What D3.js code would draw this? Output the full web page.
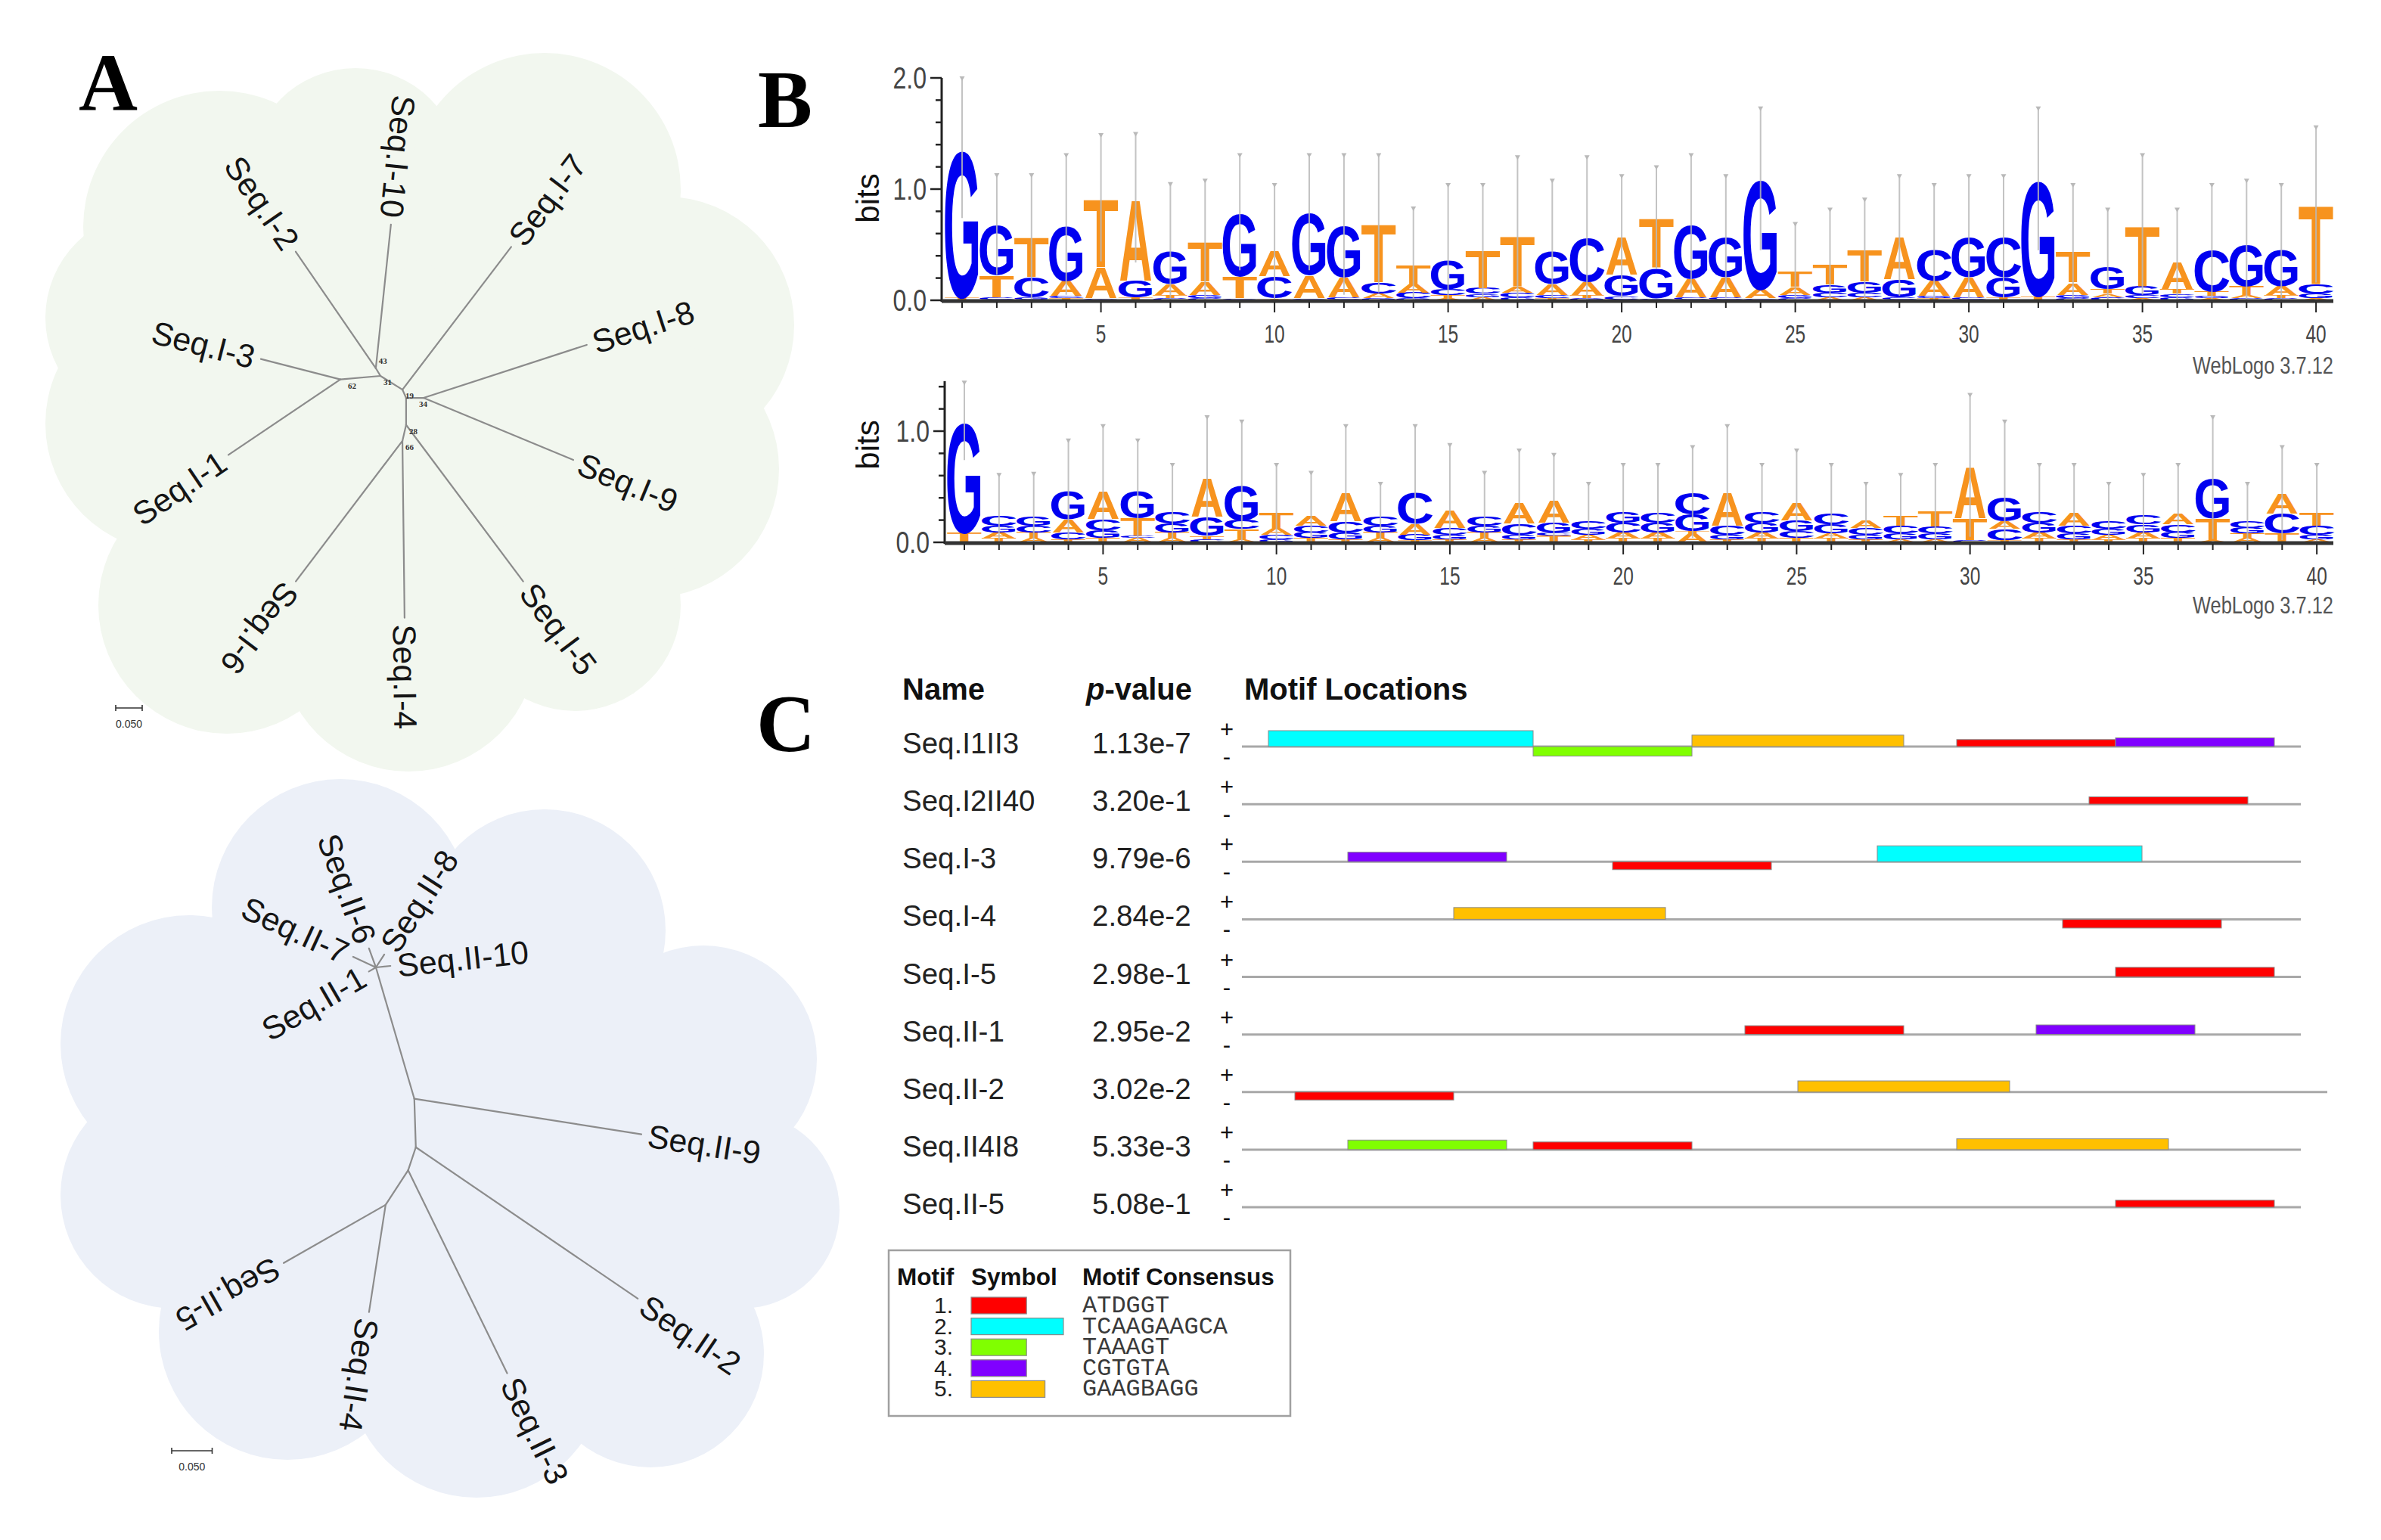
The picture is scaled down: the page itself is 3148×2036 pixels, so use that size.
<!DOCTYPE html>
<html><head><meta charset="utf-8">
<script src="https://cdn.jsdelivr.net/npm/d3@7"></script>
<style>body{margin:0;background:#fff}svg{display:block}</style>
</head><body>
<svg id="fig" width="3148" height="2036"></svg>
<script>
// ===================== DATA =====================
// Tree I (unrooted, radial). [node, parent, branch length (subst./site), branch direction (deg)]
const treeINodes = [
  ["n31", null, 0, 0],
  ["n62", "n31", 0.076, 175],
  ["n43", "n31", 0.017, -121],
  ["n19", "n31", 0.049, 32],
  ["nE", "n19", 0.017, 66],
  ["n34", "nE", 0.033, 0],
  ["n28", "nE", 0.051, 90],
  ["n66", "n28", 0.031, 103],
  ["Seq.I-10", "n43", 0.273, -84],
  ["Seq.I-2", "n43", 0.267, -124.5],
  ["Seq.I-3", "n62", 0.155, -165.6],
  ["Seq.I-1", "n62", 0.255, 146],
  ["Seq.I-7", "n19", 0.339, -52.7],
  ["Seq.I-8", "n34", 0.324, -18],
  ["Seq.I-9", "n34", 0.306, 22.5],
  ["Seq.I-5", "n28", 0.369, 53.2],
  ["Seq.I-4", "n66", 0.334, 89.3],
  ["Seq.I-6", "n66", 0.333, 127.2]
];
const treeIBootstrap = [["n62","62"],["n31","31"],["n43","43"],["n19","19"],["n34","34"],["n28","28"],["n66","66"]];

// Tree II
const treeIINodes = [
  ["p0", null, 0, 0],
  ["Seq.II-7", "p0", 0.031, -155],
  ["Seq.II-6", "p0", 0.025, -110],
  ["Seq.II-8", "p0", 0.019, -57],
  ["Seq.II-10", "p0", 0.018, -6],
  ["Seq.II-1", "p0", 0.010, 150],
  ["q0", "p0", 0.169, 73.7],
  ["Seq.II-9", "q0", 0.284, 8.9],
  ["r0", "q0", 0.060, 88.2],
  ["Seq.II-2", "r0", 0.332, 34.3],
  ["s0", "r0", 0.030, 108.4],
  ["Seq.II-3", "s0", 0.279, 64],
  ["t0", "s0", 0.051, 123.1],
  ["Seq.II-4", "t0", 0.134, 98.8],
  ["Seq.II-5", "t0", 0.145, 150.3]
];
const scaleBarValue = 0.050;

// Sequence logo 1 (bits), each position stacked bottom -> top
const logo1Stacks = [
  [["A",.01],["T",.02],["G",1.34]],
  [["A",.01],["C",.02],["T",.20],["G",.45]],
  [["A",.01],["G",.02],["C",.18],["T",.36]],
  [["T",.02],["C",.02],["A",.14],["G",.50]],
  [["C",.01],["G",.01],["A",.28],["T",.62]],
  [["C",.01],["T",.02],["G",.15],["A",.74]],
  [["C",.02],["T",.03],["A",.10],["G",.30]],
  [["C",.02],["G",.03],["A",.12],["T",.36]],
  [["A",.01],["C",.01],["T",.20],["G",.57]],
  [["G",.01],["T",.01],["C",.20],["A",.23]],
  [["T",.01],["C",.01],["A",.21],["G",.56]],
  [["T",.01],["C",.02],["A",.18],["G",.47]],
  [["G",.02],["A",.04],["C",.10],["T",.53]],
  [["G",.02],["C",.05],["A",.08],["T",.17]],
  [["A",.02],["T",.03],["C",.05],["G",.26]],
  [["A",.03],["G",.03],["C",.05],["T",.34]],
  [["G",.03],["C",.04],["A",.05],["T",.46]],
  [["T",.02],["C",.03],["A",.10],["G",.30]],
  [["G",.02],["T",.03],["A",.12],["C",.40]],
  [["T",.01],["C",.03],["G",.19],["A",.34]],
  [["A",.01],["C",.01],["G",.27],["T",.45]],
  [["T",.01],["C",.02],["A",.17],["G",.49]],
  [["T",.01],["C",.02],["A",.18],["G",.36]],
  [["T",.01],["C",.01],["A",.08],["G",.99]],
  [["C",.02],["G",.03],["A",.07],["T",.14]],
  [["A",.03],["C",.04],["G",.07],["T",.18]],
  [["A",.03],["C",.04],["G",.10],["T",.29]],
  [["T",.01],["C",.02],["G",.16],["A",.39]],
  [["T",.02],["G",.02],["A",.14],["C",.28]],
  [["T",.01],["C",.02],["A",.18],["G",.36]],
  [["A",.01],["T",.02],["G",.18],["C",.36]],
  [["A",.01],["T",.03],["G",1.05]],
  [["C",.02],["G",.03],["A",.11],["T",.28]],
  [["C",.03],["A",.03],["T",.04],["G",.21]],
  [["A",.02],["C",.03],["G",.08],["T",.55]],
  [["G",.03],["C",.03],["T",.04],["A",.24]],
  [["A",.02],["G",.02],["T",.04],["C",.38]],
  [["C",.02],["A",.03],["T",.08],["G",.38]],
  [["C",.02],["T",.03],["A",.08],["G",.33]],
  [["A",.02],["G",.04],["C",.08],["T",.72]]
];
const logo1ErrTop = [2.0,1.13,1.13,1.31,1.49,1.5,1.05,1.08,1.31,1.04,1.31,1.31,1.31,.83,1.04,1.04,1.29,1.08,1.29,1.12,
  1.2,1.31,1.12,1.73,.69,.82,.91,1.12,1.04,1.12,1.12,1.73,1.04,.82,1.31,.82,1.04,1.08,1.04,1.56];

const logo2Stacks = [
  [["C",.01],["T",.08],["G",1.0]],
  [["T",.04],["A",.05],["G",.06],["C",.09]],
  [["A",.04],["T",.05],["C",.06],["G",.08]],
  [["T",.03],["C",.06],["A",.12],["G",.25]],
  [["T",.04],["G",.07],["C",.10],["A",.25]],
  [["A",.04],["C",.02],["T",.16],["G",.24]],
  [["A",.04],["T",.05],["G",.08],["C",.11]],
  [["C",.03],["T",.03],["G",.17],["A",.35]],
  [["A",.03],["T",.09],["C",.08],["G",.32]],
  [["G",.03],["C",.04],["A",.06],["T",.14]],
  [["T",.04],["G",.05],["C",.06],["A",.09]],
  [["T",.03],["G",.06],["C",.10],["A",.26]],
  [["A",.04],["T",.05],["G",.06],["C",.08]],
  [["T",.02],["G",.05],["A",.10],["C",.28]],
  [["T",.03],["G",.04],["C",.06],["A",.16]],
  [["A",.04],["T",.05],["G",.06],["C",.08]],
  [["T",.03],["G",.04],["C",.10],["A",.19]],
  [["T",.06],["C",.03],["G",.09],["A",.21]],
  [["T",.03],["A",.04],["G",.05],["C",.07]],
  [["T",.04],["A",.05],["C",.09],["G",.10]],
  [["T",.04],["A",.05],["G",.09],["C",.09]],
  [["A",.08],["T",.02],["G",.15],["C",.20]],
  [["T",.03],["G",.04],["C",.08],["A",.31]],
  [["T",.04],["A",.05],["G",.09],["C",.10]],
  [["T",.04],["C",.06],["G",.10],["A",.16]],
  [["T",.04],["A",.04],["G",.08],["C",.10]],
  [["T",.03],["G",.04],["C",.06],["A",.07]],
  [["A",.03],["G",.05],["C",.07],["T",.09]],
  [["A",.03],["G",.05],["C",.06],["T",.14]],
  [["C",.02],["T",.20],["A",.47]],
  [["T",.02],["C",.10],["A",.07],["G",.22]],
  [["T",.04],["A",.05],["G",.09],["C",.10]],
  [["T",.03],["G",.05],["C",.07],["A",.12]],
  [["T",.03],["A",.04],["G",.05],["C",.07]],
  [["T",.04],["A",.05],["G",.07],["C",.08]],
  [["T",.04],["G",.05],["C",.07],["A",.10]],
  [["A",.02],["T",.20],["G",.36]],
  [["A",.04],["T",.04],["G",.05],["C",.06]],
  [["T",.08],["C",.18],["A",.18]],
  [["A",.03],["G",.04],["C",.08],["T",.12]]
];
const logo2ErrTop = [1.44,.61,.62,.92,1.05,.92,.7,1.13,1.09,.7,.63,1.05,.53,1.05,.88,.63,.83,.79,.53,.7,
  .7,.86,1.05,.7,.83,.7,.53,.61,.7,1.33,1.09,.7,.7,.53,.61,.7,1.13,.53,.86,.7];
const logoXTicks = [5,10,15,20,25,30,35,40];
const logo1YTicks = [0,1,2];
const logo2YTicks = [0,1];
const weblogoCredit = "WebLogo 3.7.12";

// Motif locations (MEME)
const seqNames = ["Seq.I1II3","Seq.I2II40","Seq.I-3","Seq.I-4","Seq.I-5","Seq.II-1","Seq.II-2","Seq.II4I8","Seq.II-5"];
const seqPValues = ["1.13e-7","3.20e-1","9.79e-6","2.84e-2","2.98e-1","2.95e-2","3.02e-2","5.33e-3","5.08e-1"];
const seqLengths = [40,40,40,40,40,40,41,40,40];
// [sequence index, motif, strand, start position, site -log10(p)]
const motifSites = [
  [0,2,"+",1,10.0],[0,3,"-",11,6.0],[0,5,"+",17,7.2],[0,1,"+",27,4.4],[0,4,"+",33,5.5],
  [1,1,"+",32,4.6],
  [2,4,"+",4,6.0],[2,1,"-",14,5.0],[2,2,"+",24,10.0],
  [3,5,"+",8,7.4],[3,1,"-",31,5.5],
  [4,1,"+",33,6.0],
  [5,1,"+",19,5.5],[5,4,"+",30,6.0],
  [6,1,"-",2,5.0],[6,5,"+",21,7.0],
  [7,3,"+",4,6.0],[7,1,"+",11,4.8],[7,5,"+",27,6.8],
  [8,1,"+",33,4.4]
];
const motifIds = [1,2,3,4,5];
const motifWidths = [6,10,6,6,8];
const motifConsensus = ["ATDGGT","TCAAGAAGCA","TAAAGT","CGTGTA","GAAGBAGG"];

// ===================== DRAWING =====================
const svg = d3.select("#fig");
svg.append("rect").attr("width",3148).attr("height",2036).attr("fill","#fff");
const SANS = "'Liberation Sans', Arial, sans-serif";

// ---------- Panel A: trees ----------
function drawCloud(circles, color){
  const g = svg.append("g").attr("fill", color);
  g.selectAll("circle").data(circles).join("circle")
    .attr("cx",d=>d[0]).attr("cy",d=>d[1]).attr("r",d=>d[2]);
}
drawCloud([[540,520,330],[290,300,180],[470,230,140],[720,250,180],[880,430,170],[860,620,170],
  [760,800,140],[540,850,170],[300,800,170],[230,560,170],[200,420,140]], "#f2f7ef");
drawCloud([[580,1500,360],[450,1200,170],[720,1230,160],[930,1400,150],[980,1600,130],[860,1790,150],
  [630,1810,170],[380,1760,170],[230,1580,150],[250,1380,170]], "#ecf0f8");

function drawTree(nodes, root, lenScale, flipped, bootstrap){
  const pos = new Map();
  pos.set(nodes[0][0], root);
  const edges = [];
  nodes.slice(1).forEach(([id,parent,len,ang])=>{
    const p = pos.get(parent), r = lenScale(len), a = ang*Math.PI/180;
    const c = [p[0]+r*Math.cos(a), p[1]+r*Math.sin(a)];
    pos.set(id, c);
    edges.push({id, p, c, ang, leaf: id.startsWith("Seq")});
  });
  const g = svg.append("g");
  g.selectAll("line").data(edges).join("line")
    .attr("x1",d=>d.p[0]).attr("y1",d=>d.p[1]).attr("x2",d=>d.c[0]).attr("y2",d=>d.c[1])
    .attr("stroke","#8c8c8c").attr("stroke-width",2.2).attr("stroke-linecap","round");
  const leaves = edges.filter(d=>d.leaf);
  g.selectAll("text.leaf").data(leaves).join("text").attr("class","leaf")
    .attr("transform",d=>{
      const a=d.ang*Math.PI/180, off=9;
      const x=d.c[0]+off*Math.cos(a), y=d.c[1]+off*Math.sin(a);
      const rot = flipped.has(d.id) ? d.ang+180 : d.ang;
      return `translate(${x},${y}) rotate(${rot})`;
    })
    .attr("text-anchor",d=>flipped.has(d.id)?"end":"start")
    .attr("dy","0.36em").attr("font-family",SANS).attr("font-size",43).attr("fill","#151515")
    .text(d=>d.id);
  if (bootstrap) {
    g.selectAll("text.bs").data(bootstrap).join("text").attr("class","bs")
      .attr("x",d=>pos.get(d[0])[0]+ (d[0]==="n62"?10:(d[0]==="n34"?-6:4)))
      .attr("y",d=>pos.get(d[0])[1]+ (d[0]==="n43"?-6:12))
      .attr("font-family","'Liberation Serif', serif").attr("font-size",11).attr("font-weight","bold")
      .attr("fill","#333").text(d=>d[1]);
  }
  return pos;
}
const scaleI = d3.scaleLinear().domain([0, scaleBarValue]).range([0, 35]);
const scaleII = d3.scaleLinear().domain([0, scaleBarValue]).range([0, 53.5]);
drawTree(treeINodes, [503,497], scaleI, new Set(["Seq.I-10","Seq.I-2","Seq.I-3","Seq.I-1"]), treeIBootstrap);
drawTree(treeIINodes, [497,1279], scaleII, new Set(["Seq.II-7","Seq.II-6","Seq.II-1"]), null);

function scaleBar(x, y, sc){
  const w = sc(scaleBarValue);
  const g = svg.append("g").attr("stroke","#333").attr("stroke-width",1.6);
  g.append("line").attr("x1",x).attr("x2",x+w).attr("y1",y).attr("y2",y);
  g.append("line").attr("x1",x).attr("x2",x).attr("y1",y-4).attr("y2",y+4);
  g.append("line").attr("x1",x+w).attr("x2",x+w).attr("y1",y-4).attr("y2",y+4);
  svg.append("text").attr("x",x+w/2).attr("y",y+26).attr("text-anchor","middle")
    .attr("font-family",SANS).attr("font-size",14).attr("fill","#333").text(d3.format(".3f")(scaleBarValue));
}
scaleBar(153, 936, scaleI);
scaleBar(227, 1918, scaleII);

// panel letters
[["A",143,146,"middle"],["B",1002,168,"start"],["C",1000,993,"start"]].forEach(([t,x,y,an])=>{
  svg.append("text").attr("x",x).attr("y",y).attr("text-anchor",an)
    .attr("font-family","'Liberation Serif','Times New Roman',serif").attr("font-weight","bold")
    .attr("font-size",108).attr("fill","#000").text(t);
});

// ---------- Panel B: sequence logos ----------
const glyph = {A:{lb:0.0,w:0.722},C:{lb:0.05,w:0.63},G:{lb:0.05,w:0.68},T:{lb:0.02,w:0.575}};
const letterColor = {A:"#f7931e",T:"#f7931e",C:"#0000f0",G:"#0000f0"};
function drawLogo(stacks, errTop, o){
  const x = d3.scaleLinear().domain([1,40]).range([o.x1, o.x1 + 39*o.step]);
  const y = d3.scaleLinear().domain([0,1]).range([o.base, o.base - o.bit]);
  const g = svg.append("g");
  const bw = o.step*0.96, FS = 100, capH = 0.716;
  stacks.forEach((stack,i)=>{
    let cum = 0;
    const cx = x(i+1);
    stack.forEach(([L,h])=>{
      const y0 = y(cum), y1 = y(cum+h); cum += h;
      const ph = y0 - y1; if (ph < 0.3) return;
      const m = glyph[L];
      const sx = bw/(m.w*FS), sy = ph/(capH*FS);
      g.append("text").attr("transform",`translate(${cx-bw/2 - m.lb*FS*sx},${y0}) scale(${sx},${sy})`)
        .attr("font-family",SANS).attr("font-weight","bold").attr("font-size",FS)
        .attr("fill",letterColor[L]).text(L);
    });
    const top = cum, et = errTop[i], lo = Math.max(0, 2*top - et);
    g.append("line").attr("x1",cx).attr("x2",cx).attr("y1",y(lo)).attr("y2",y(et))
      .attr("stroke","#b9b9b9").attr("stroke-width",2).attr("opacity",0.85);
    g.append("path").attr("d",`M${cx-3.5},${y(et)-2} L${cx+3.5},${y(et)-2} L${cx},${y(et)+4} Z`).attr("fill","#b9b9b9");
  });
  // axes
  const ax = svg.append("g");
  ax.append("line").attr("x1",o.axX).attr("x2",o.axX).attr("y1",y(o.yMax)).attr("y2",o.base+2)
    .attr("stroke","#222").attr("stroke-width",3);
  const minor = d3.range(0, o.yMax+1e-6, 0.2);
  ax.selectAll("line.mt").data(minor).join("line").attr("class","mt")
    .attr("x1",d=> o.yTicks.includes(Math.round(d*10)/10) ? o.axX-15 : o.axX-8).attr("x2",o.axX)
    .attr("y1",d=>y(d)).attr("y2",d=>y(d)).attr("stroke","#222").attr("stroke-width",2.5);
  ax.selectAll("text.yt").data(o.yTicks).join("text").attr("class","yt")
    .attr("transform",d=>`translate(${o.axX-20},${y(d)}) scale(0.8,1)`)
    .attr("text-anchor","end").attr("dy","0.36em").attr("font-family",SANS).attr("font-size",40)
    .attr("fill","#444").text(d=>d3.format(".1f")(d));
  ax.append("line").attr("x1",o.axX).attr("x2",o.xEnd).attr("y1",o.base+1).attr("y2",o.base+1)
    .attr("stroke","#333").attr("stroke-width",5);
  ax.selectAll("line.xt").data(d3.range(1,41)).join("line").attr("class","xt")
    .attr("x1",d=>x(d)).attr("x2",d=>x(d)).attr("y1",o.base+2).attr("y2",d=> logoXTicks.includes(d)? o.base+16 : o.base+10)
    .attr("stroke","#222").attr("stroke-width",2);
  ax.selectAll("text.xtl").data(logoXTicks).join("text").attr("class","xtl")
    .attr("transform",d=>`translate(${x(d)},${o.base+56}) scale(0.72,1)`)
    .attr("text-anchor","middle").attr("font-family",SANS).attr("font-size",34).attr("fill","#444").text(d=>d);
  ax.append("text").attr("transform",`translate(${o.bitsX},${o.bitsY}) rotate(-90)`)
    .attr("text-anchor","middle").attr("font-family",SANS).attr("font-size",42).attr("fill","#111").text("bits");
  ax.append("text").attr("transform",`translate(${o.xEnd},${o.creditY}) scale(0.82,1)`)
    .attr("text-anchor","end").attr("font-family",SANS).attr("font-size",31).attr("fill","#555").text(weblogoCredit);
}
drawLogo(logo1Stacks, logo1ErrTop, {x1:1272, step:45.9, base:397, bit:147, axX:1245, yMax:2.0, yTicks:logo1YTicks,
  xEnd:3085, bitsX:1162, bitsY:262, creditY:494});
drawLogo(logo2Stacks, logo2ErrTop, {x1:1275, step:45.85, base:717, bit:147, axX:1249, yMax:1.45, yTicks:logo2YTicks,
  xEnd:3085, bitsX:1162, bitsY:588, creditY:811});

// ---------- Panel C: motif locations ----------
const motifColor = d3.scaleOrdinal().domain(motifIds).range(["#ff0000","#00ffff","#80ff00","#8000ff","#ffc000"]);
const rowY = d3.scaleLinear().domain([0, seqNames.length-1]).range([987, 1596]);
const seqX = d3.scaleLinear().domain([0,40]).range([1642, 3042]);
const siteH = d3.scaleLinear().domain([0,10]).range([0,21]);
const pc = svg.append("g").attr("font-family",SANS);
pc.append("text").attr("x",1193).attr("y",925).attr("font-weight","bold").attr("font-size",40).attr("fill","#111").text("Name");
const pv = pc.append("text").attr("x",1436).attr("y",925).attr("font-weight","bold").attr("font-size",40).attr("fill","#111");
pv.append("tspan").attr("font-style","italic").text("p");
pv.append("tspan").text("-value");
pc.append("text").attr("x",1645).attr("y",925).attr("font-weight","bold").attr("font-size",40).attr("fill","#111").text("Motif Locations");

seqNames.forEach((n,i)=>{
  const yy = rowY(i);
  pc.append("text").attr("x",1193).attr("y",yy+9).attr("font-size",38.5).attr("fill","#222").text(n);
  pc.append("text").attr("x",1444).attr("y",yy+9).attr("font-size",38.5).attr("fill","#222").text(seqPValues[i]);
  pc.append("text").attr("x",1622).attr("y",yy-12).attr("text-anchor","middle").attr("font-size",31).attr("fill","#111").text("+");
  pc.append("text").attr("x",1622).attr("y",yy+24).attr("text-anchor","middle").attr("font-size",31).attr("fill","#111").text("-");
  pc.append("line").attr("x1",seqX(0)).attr("x2",seqX(seqLengths[i])).attr("y1",yy).attr("y2",yy)
    .attr("stroke","#a8a8a8").attr("stroke-width",3);
});
pc.selectAll("rect.site").data(motifSites).join("rect").attr("class","site")
  .attr("x",d=>seqX(d[3])).attr("width",d=>seqX(d[3]+motifWidths[d[1]-1])-seqX(d[3]))
  .attr("y",d=> d[2]==="+" ? rowY(d[0]) - siteH(d[4]) : rowY(d[0]))
  .attr("height",d=>siteH(d[4]))
  .attr("fill",d=>motifColor(d[1])).attr("stroke","#8a8a8a").attr("stroke-width",1);

// legend
const lg = svg.append("g").attr("font-family",SANS);
lg.append("rect").attr("x",1175).attr("y",1653).attr("width",531).attr("height",219)
  .attr("fill","#fff").attr("stroke","#a0a0a0").attr("stroke-width",2.5);
[["Motif",1186],["Symbol",1284],["Motif Consensus",1431]].forEach(([t,x])=>{
  lg.append("text").attr("x",x).attr("y",1699).attr("font-weight","bold").attr("font-size",31.5).attr("fill","#111").text(t);
});
const legScale = d3.scaleLinear().domain([0,10]).range([1284,1406]);
motifIds.forEach((m,i)=>{
  const top = 1715 + i*27.6;
  lg.append("text").attr("x",1260).attr("y",top+21).attr("text-anchor","end").attr("font-size",30).attr("fill","#222").text(m+".");
  lg.append("rect").attr("x",legScale(0)).attr("y",top).attr("width",legScale(motifWidths[i])-legScale(0)).attr("height",22)
    .attr("fill",motifColor(m)).attr("stroke","#8a8a8a").attr("stroke-width",1.2);
  lg.append("text").attr("x",1431).attr("y",top+20).attr("font-family","'Liberation Mono','Courier New',monospace")
    .attr("font-size",32).attr("fill","#3a3a3a").text(motifConsensus[i]);
});
</script>
</body></html>
